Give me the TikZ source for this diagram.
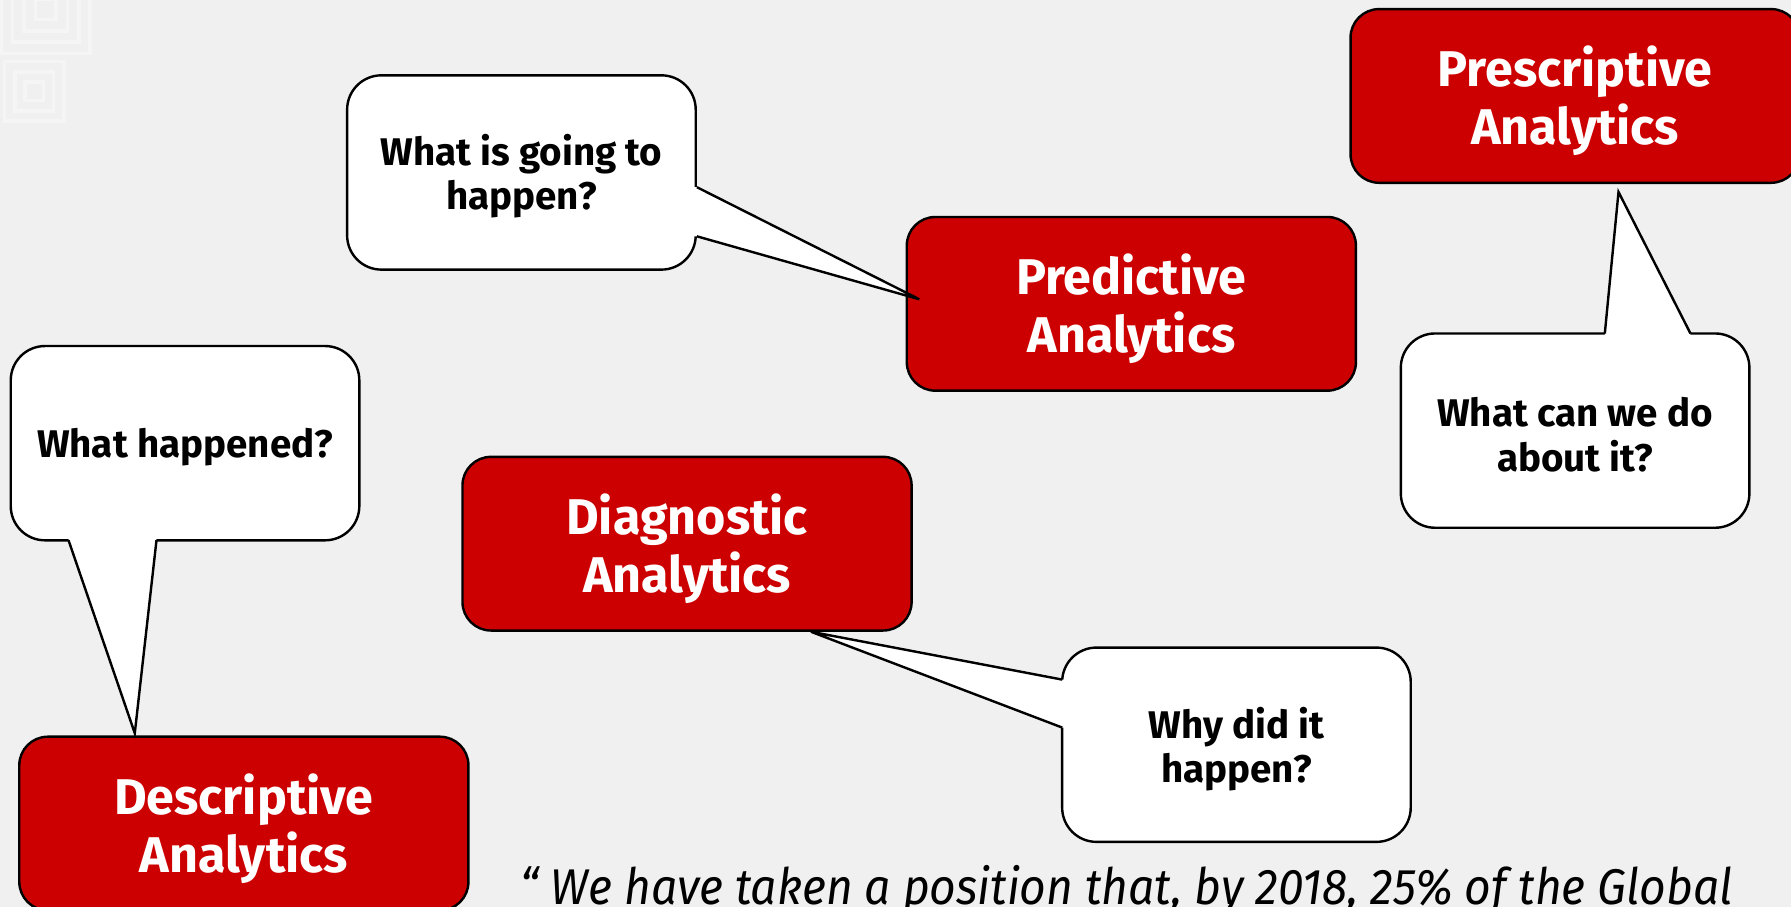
\documentclass[tikz,border=0pt]{standalone}
\usepackage{fontspec}
\usepackage{graphicx}
\setmainfont{Fira Sans}
\usetikzlibrary{calc}
\definecolor{bg}{HTML}{F0F0F0}
\definecolor{rhred}{HTML}{CC0000}
\begin{document}
\begin{tikzpicture}[x=0.01cm,y=-0.01cm,
  redbox/.style={draw=black, line width=0.6pt, fill=rhred, rounded corners=0.25cm,
    minimum width=3.93cm, minimum height=1.52cm, inner sep=0pt},
  redtxt/.style={text=white, font=\fontsize{12.5}{14.5}\selectfont\bfseries,
    align=center, inner sep=0pt, yshift=-1.2pt},
  callout/.style={draw=black, line width=0.6pt, fill=white, rounded corners=0.3cm,
    minimum width=3.05cm, minimum height=1.7cm, inner sep=0pt},
  calltxt/.style={font=\fontsize{9.6}{11}\selectfont\bfseries, align=center,
    inner sep=0pt, yshift=-1pt},
  tailfill/.style={fill=white},
  tailline/.style={draw=black, line width=0.6pt, line join=miter},
  deco/.style={draw=white, line width=0.9pt, opacity=0.35}]
\useasboundingbox (0,0) rectangle (1568,794);
\clip (0,0) rectangle (1568,794);
\fill[bg] (0,0) rectangle (1568,794);
% faint corner pattern
\foreach \h in {9,19,29,39}{\draw[deco] (40-\h,8-\h) rectangle (40+\h,8+\h);}
\foreach \h in {8,17,26}{\draw[deco] (30-\h,80-\h) rectangle (30+\h,80+\h);}
% red boxes
\node[redbox, label={[redtxt]center:Predictive\\Analytics}] (pred) at (990.5,266) {};
\node[redbox, label={[redtxt]center:Prescriptive\\Analytics}] (presc) at (1379,84) {};
\node[redbox, label={[redtxt]center:Diagnostic\\Analytics}] (diag) at (601.5,476) {};
\node[redbox, label={[redtxt]center:Descriptive\\Analytics}] (desc) at (213.5,721) {};
% callouts
\node[callout, label={[calltxt]center:What is going to\\happen?}] (cA) at (456.5,151) {};
\node[callout, label={[calltxt]center:What can we do\\about it?}] (cB) at (1379,377) {};
\node[callout, label={[calltxt]center:What happened?}] (cC) at (162,388) {};
\node[callout, label={[calltxt]center:Why did it\\happen?}] (cD) at (1082.5,652) {};
% tails
\coordinate (a1) at ($(cA.north east)+(0,99)$);
\coordinate (a2) at ($(cA.north east)+(0,142)$);
\coordinate (at) at ($(pred.west)+(12,-4)$);
\fill[tailfill] ($(a1)+(-3,0)$) -- (a1) -- (at) -- (a2) -- ($(a2)+(-3,0)$) -- cycle;
\draw[tailline] (a1) -- (at) -- (a2);
\coordinate (b1) at (1405,292);
\coordinate (b2) at (1480,292);
\coordinate (bt) at ($(presc.south)+(38,7)$);
\fill[tailfill] ($(b1)+(0,3)$) -- (b1) -- (bt) -- (b2) -- ($(b2)+(0,3)$) -- cycle;
\draw[tailline] (b1) -- (bt) -- (b2);
\coordinate (c1) at (60,473);
\coordinate (c2) at (137,473);
\coordinate (ct) at ($(desc.north)+(-95.5,-2)$);
\fill[tailfill] ($(c1)+(0,-3)$) -- (c1) -- (ct) -- (c2) -- ($(c2)+(0,-3)$) -- cycle;
\draw[tailline] (c1) -- (ct) -- (c2);
\coordinate (d1) at (930,595);
\coordinate (d2) at (930,637);
\coordinate (dt) at ($(diag.south)+(108.5,0)$);
\fill[tailfill] ($(d1)+(3,0)$) -- (d1) -- (dt) -- (d2) -- ($(d2)+(3,0)$) -- cycle;
\draw[tailline] (d1) -- (dt) -- (d2);
% quote
\node[anchor=base west, inner sep=0pt, font=\fontsize{12.5}{14}\selectfont\itshape] (quote) at (455,792)
  {\scalebox{0.92}[1]{“ We have taken a position that, by 2018, 25\% of the Global}};
\end{tikzpicture}
\end{document}
